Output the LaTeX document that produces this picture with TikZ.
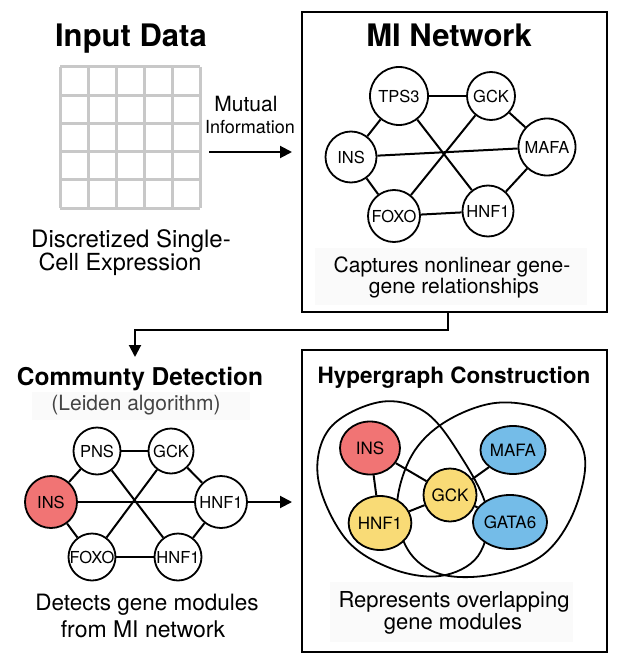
\documentclass[tikz,border=0pt]{standalone}
\usepackage{fontspec}
\setmainfont{TeX Gyre Heros}
\usetikzlibrary{arrows.meta,shapes.geometric}
\definecolor{insred}{HTML}{F17474}
\definecolor{modblue}{HTML}{74BCE8}
\definecolor{modyellow}{HTML}{F9DB76}
\definecolor{gridgray}{HTML}{C8C8C8}
\definecolor{capbg}{HTML}{FAFAFA}
\definecolor{subgray}{HTML}{444444}
\begin{document}
\begin{tikzpicture}[x=1pt,y=-1pt,
  gnode/.style={circle,draw=black,line width=1.8pt,fill=white,inner sep=0pt,font=\fontsize{16.5}{16.5}\selectfont},
  hnode/.style={ellipse,draw=black,line width=1.8pt,inner sep=0pt,font=\fontsize{17}{17}\selectfont},
  edge/.style={line width=2pt},
  hedge/.style={line width=1.8pt},
  arr/.style={line width=2pt,-{Triangle[length=12pt,width=12pt]}},
  panel/.style={draw=black,line width=2pt,fill=white,inner sep=0pt},
  txt/.style={anchor=base,inner sep=0pt},
  capbox/.style={fill=capbg,draw=none,inner sep=0pt}
]
\useasboundingbox (0,0) rectangle (621,666);
\fill[white] (0,0) rectangle (621,666);

% ---------- Input data ----------
\node[txt,font=\fontsize{31}{31}\selectfont\bfseries] (tin) at (131,47) {Input Data};
\foreach \i in {0,...,5}{
  \draw[gridgray,line width=3pt] (60+28*\i,67) -- (60+28*\i,208);
  \draw[gridgray,line width=3pt] (60,67+28.2*\i) -- (200,67+28.2*\i);
}
\coordinate (gridE) at (209,152);
\node[txt,font=\fontsize{24}{24}\selectfont] (d1) at (131,247) {Discretized Single-};
\node[txt,font=\fontsize{23.5}{23.5}\selectfont] (d2) at (120,270) {Cell Expression};
\node[txt,font=\fontsize{21}{21}\selectfont] (mu1) at (246,112) {Mutual};
\node[txt,font=\fontsize{18}{18}\selectfont] (mu2) at (250,133) {Information};

% ---------- MI Network panel ----------
\node[panel,minimum width=305pt,minimum height=300pt] (mibox) at (454.5,162) {};
\node[txt,font=\fontsize{31}{31}\selectfont\bfseries] (tmi) at (449,47) {MI Network};
\node[capbox,minimum width=272pt,minimum height=57pt] (micap) at (451,276.5) {};
\node[gnode,minimum size=58pt] (m1) at (399,96) {TPS3};
\node[gnode,minimum size=48pt] (m2) at (491,96) {GCK};
\node[gnode,minimum size=51pt] (m3) at (351,157) {INS};
\node[gnode,minimum size=57pt] (m4) at (547,147) {MAFA};
\node[gnode,minimum size=52pt] (m5) at (394,216) {FOXO};
\node[gnode,minimum size=51pt] (m6) at (488,211) {HNF1};
\draw[edge] (m1) -- (m2);
\draw[edge] (m1) -- (m3);
\draw[edge] (m1) -- (m6);
\draw[edge] (m2) -- (m4);
\draw[edge] (m2) -- (m5);
\draw[edge] (m3) -- (m4);
\draw[edge] (m3) -- (m5);
\draw[edge] (m4) -- (m6);
\draw[edge] (m5) -- (m6);
\node[txt,font=\fontsize{21}{21}\selectfont] (c1) at (452,272) {Captures nonlinear gene-};
\node[txt,font=\fontsize{21}{21}\selectfont] (c2) at (454,293) {gene relationships};

% arrow input -> MI
\draw[arr,shorten >=9pt] (gridE) -- (gridE -| mibox.west);

% ---------- Community detection ----------
\node[txt,font=\fontsize{24.5}{24.5}\selectfont\bfseries] (tcd) at (140,385) {Communty Detection};
\node[capbox,minimum width=218pt,minimum height=28pt] (lcap) at (141,406) {};
\node[txt,font=\fontsize{21}{21}\selectfont,text=subgray] (tlei) at (136,410) {(Leiden algorithm)};
\node[gnode,minimum size=47pt] (k1) at (97,451) {PNS};
\node[gnode,minimum size=45pt] (k2) at (171,451) {GCK};
\node[gnode,minimum size=52pt,fill=insred] (k3) at (51,502) {INS};
\node[gnode,minimum size=52pt] (k4) at (221,502) {HNF1};
\node[gnode,minimum size=47pt] (k5) at (92,557) {FOXO};
\node[gnode,minimum size=47pt] (k6) at (178,557) {HNF1};
\draw[edge] (k1) -- (k2);
\draw[edge] (k1) -- (k3);
\draw[edge] (k1) -- (k6);
\draw[edge] (k2) -- (k4);
\draw[edge] (k2) -- (k5);
\draw[edge] (k3) -- (k4);
\draw[edge] (k3) -- (k5);
\draw[edge] (k4) -- (k6);
\draw[edge] (k5) -- (k6);
\node[txt,font=\fontsize{22.5}{22.5}\selectfont] (e1) at (147,610) {Detects gene modules};
\node[txt,font=\fontsize{23}{23}\selectfont] (e2) at (143,637) {from MI network};

% arrow MI -> community
\coordinate (mibot) at (448,312);
\coordinate (cdtop) at (135,357);
\draw[arr] (mibot) -- (448,330) -| (cdtop);

% ---------- Hypergraph panel ----------
\node[panel,minimum width=305pt,minimum height=302pt] (hbox) at (454.5,501) {};
\node[txt,font=\fontsize{22.5}{22.5}\selectfont\bfseries] (thg) at (454,383) {Hypergraph Construction};
\node[capbox,minimum width=243pt,minimum height=60pt] (hcap) at (451.5,612) {};
\draw[hedge] plot[smooth cycle,tension=0.6] coordinates {(318,478) (330,428) (380,402) (425,412) (460,455) (487,510) (478,556) (440,576) (390,568) (345,538)};
\draw[hedge] plot[smooth cycle,tension=0.6] coordinates {(397,505) (412,455) (445,422) (495,403) (545,410) (577,437) (585,470) (570,520) (540,557) (490,575) (440,574) (408,550)};
\node[hnode,fill=insred,minimum width=60pt,minimum height=53pt] (h1) at (370,448) {INS};
\node[hnode,fill=modblue,minimum width=61pt,minimum height=48pt] (h2) at (513,450) {MAFA};
\node[hnode,fill=modyellow,minimum width=53pt,minimum height=53pt] (h3) at (450,495) {GCK};
\node[hnode,fill=modyellow,minimum width=55pt,minimum height=54pt] (h4) at (380,523) {HNF1};
\node[hnode,fill=modblue,minimum width=58pt,minimum height=54pt] (h5) at (510,522) {GATA6};
\draw[edge] (h1) -- (h4);
\draw[edge] (h1) -- (h3);
\draw[edge] (h4) -- (h3);
\draw[edge] (h3) -- (h2);
\draw[edge] (h3) -- (h5);
\node[txt,font=\fontsize{22}{22}\selectfont] (r1) at (454,607) {Represents overlapping};
\node[txt,font=\fontsize{22}{22}\selectfont] (r2) at (453,629) {gene modules};

% arrow community -> hypergraph
\draw[arr,shorten >=9pt] (k4) -- (k4 -| hbox.west);
\end{tikzpicture}
\end{document}
